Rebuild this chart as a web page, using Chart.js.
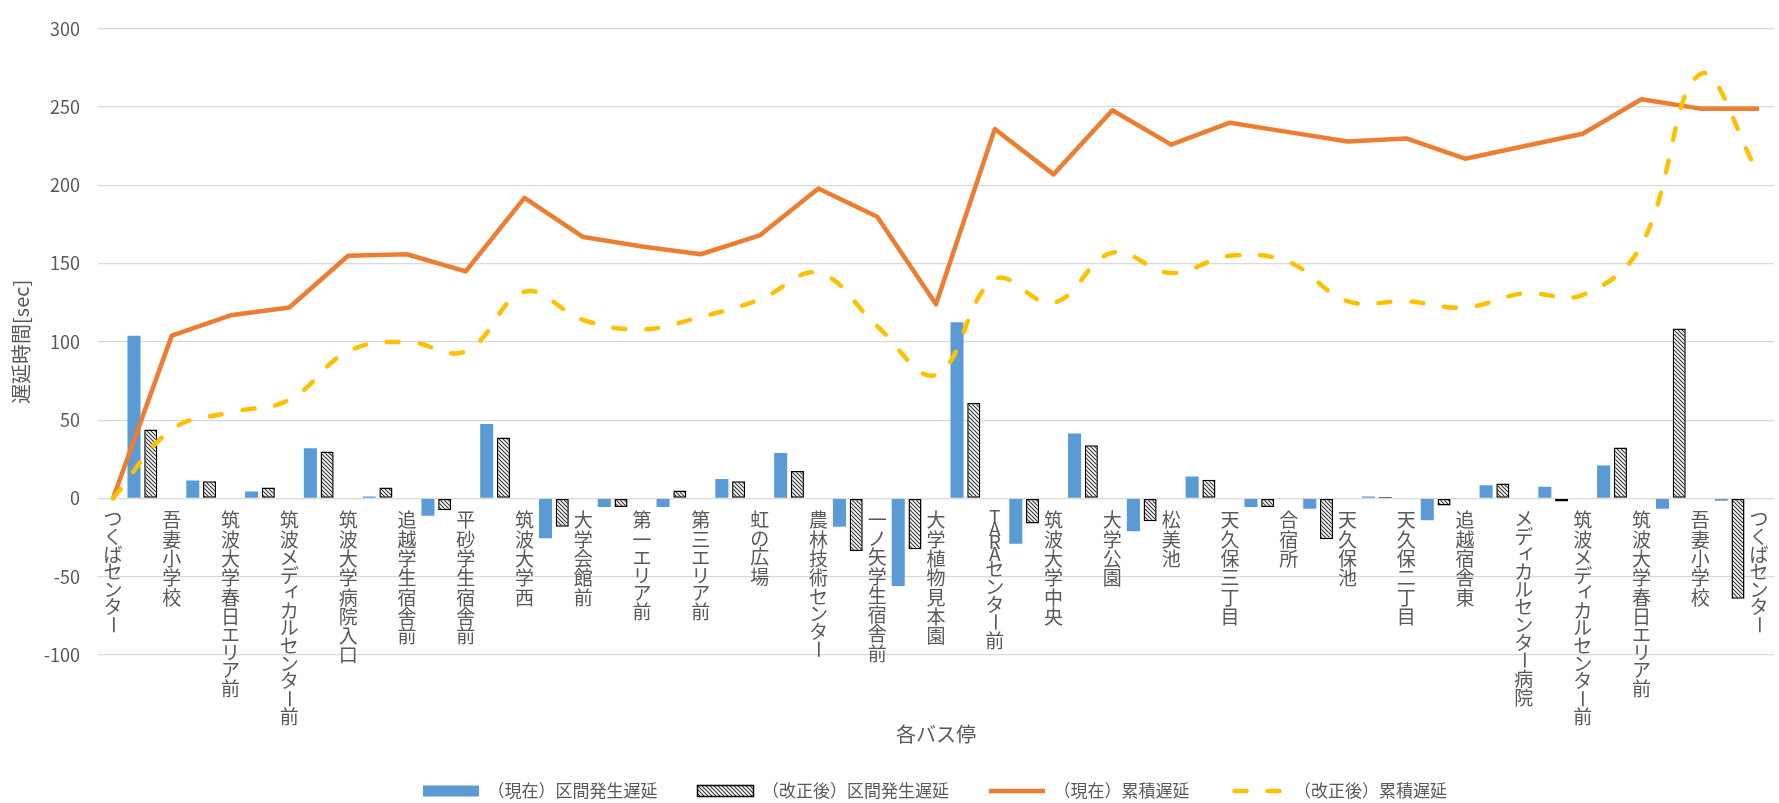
<!DOCTYPE html>
<html lang="ja">
<head>
<meta charset="utf-8">
<script src="https://cdn.jsdelivr.net/npm/chart.js@4"></script>
<style>
  html, body { margin: 0; padding: 0; background: #fff; }
  #wrap { width: 1779px; height: 803px; }
</style>
</head>
<body>
<div id="wrap"><canvas id="myChart"></canvas></div>
<script>
const stops = [
  'つくばセンター', '吾妻小学校', '筑波大学春日エリア前', '筑波メディカルセンター前',
  '筑波大学病院入口', '追越学生宿舎前', '平砂学生宿舎前', '筑波大学西', '大学会館前',
  '第一エリア前', '第三エリア前', '虹の広場', '農林技術センター', '一ノ矢学生宿舎前',
  '大学植物見本園', 'TARAセンター前', '筑波大学中央', '大学公園', '松美池',
  '天久保三丁目', '合宿所', '天久保池', '天久保二丁目', '追越宿舎東',
  'メディカルセンター病院', '筑波メディカルセンター前', '筑波大学春日エリア前',
  '吾妻小学校', 'つくばセンター',
];

// delay produced in each section (between stop i and i+1)
const currentSection = [104, 11.5, 4.5, 32, 1.3, -11, 47.5, -25.5, -5.5, -5.5, 12.5, 29, -18, -56,
  112.5, -29, 41.5, -21, 14, -5.5, -6.5, 1.3, -14, 8.5, 7.5, 21, -6.5, -1.5];
const revisedSection = [44, 11, 7, 30, 7, -7.5, 39, -18, -5.5, 5, 11, 17.5, -33.5, -32.5,
  61, -16, 34, -14.5, 12, -5.5, -26, 1, -4.5, 9.5, -2, 32.5, 108.5, -64];

// accumulated delay at each stop
const currentTotal = [0, 104, 117, 122, 155, 156, 145, 192, 167, 161, 156, 168, 198, 180, 124,
  236, 207, 248, 226, 240, 234, 228, 230, 217, 225, 233, 255, 249, 249];
const revisedTotal = [0, 44, 55, 63, 94, 100, 94, 132, 114, 108, 116, 127, 144, 110, 79,
  140, 125, 157, 144, 155, 151, 126, 126, 122, 131, 130, 162, 271, 207];

const yTicks = { min: -100, max: 300, step: 50 };

const FONT = '"Noto Sans CJK JP", "Noto Sans", sans-serif';
const GRAY = '#595959';

// diagonal hatch for the revised bars
const hatch = (() => {
  const c = document.createElement('canvas');
  c.width = 4; c.height = 4;
  const g = c.getContext('2d');
  g.fillStyle = '#fff';
  g.fillRect(0, 0, 4, 4);
  g.strokeStyle = '#333';
  g.lineWidth = 1.1;
  g.beginPath();
  g.moveTo(-1, -1); g.lineTo(5, 5);
  g.moveTo(-1, 3); g.lineTo(1, 5);
  g.moveTo(3, -1); g.lineTo(5, 1);
  g.stroke();
  return g.createPattern(c, 'repeat');
})();

const SMALL = 'ァィゥェォッャュョぁぃぅぇぉっゃゅょ';

// stop names written vertically under the zero line
const stopLabels = {
  id: 'stopLabels',
  afterDraw(chart) {
    const { ctx, scales: { x, y } } = chart;
    const top = y.getPixelForValue(0) + 12;
    ctx.save();
    ctx.fillStyle = GRAY;
    ctx.font = '19px ' + FONT;
    ctx.textAlign = 'center';
    ctx.textBaseline = 'middle';
    stops.forEach((name, i) => {
      const cx = x.getPixelForValue(i);
      let cy = top;
      for (const ch of name) {
        const code = ch.codePointAt(0);
        const step = code < 0x80 ? 12.5 : (code >= 0x3040 && code <= 0x30ff ? 17.6 : 19.3);
        const my = cy + step / 2;
        if (ch === 'ー') {
          ctx.save();
          ctx.translate(cx, my);
          ctx.rotate(Math.PI / 2);
          ctx.fillText(ch, 0, 0);
          ctx.restore();
        } else if (SMALL.includes(ch)) {
          ctx.fillText(ch, cx + 3, my - 3);
        } else {
          ctx.fillText(ch, cx, my);
        }
        cy += step;
      }
    });
    ctx.restore();
  }
};

// put the legend row where the original has it
const legendPlace = {
  id: 'legendPlace',
  afterLayout(chart) {
    const lg = chart.legend;
    if (!lg || !lg.lineWidths) return;
    const p = lg.options.labels.padding;
    const lw = lg.lineWidths[0];
    const start = 935 - (lw - p) / 2;
    lg.left = 0;
    lg.right = 2 * start - p + lw;
    lg.width = lg.right;
    lg.top = 791 - 8.5 - p;
    lg.height = 17 + 2 * p;
    lg.bottom = lg.top + lg.height;
  }
};

const data = {
  datasets: [{
    label: '（現在）区間発生遅延',
    data: currentSection.map((v, i) => ({ x: i + 0.5, y: v })),
    backgroundColor: '#5B9BD5',
    borderWidth: 0,
    pointStyle: 'rect',
    categoryPercentage: 0.57,
    barPercentage: 0.78,
    order: 2,
  }, {
    label: '（改正後）区間発生遅延',
    data: revisedSection.map((v, i) => ({ x: i + 0.5, y: v })),
    backgroundColor: hatch,
    borderColor: '#000',
    borderWidth: 1.5,
    borderSkipped: false,
    pointStyle: 'rect',
    categoryPercentage: 0.57,
    barPercentage: 0.78,
    order: 3,
  }, {
    type: 'line',
    label: '（現在）累積遅延',
    data: currentTotal.map((v, i) => ({ x: i, y: v })),
    borderColor: '#ED7D31',
    backgroundColor: '#ED7D31',
    borderWidth: 4.5,
    borderJoinStyle: 'round',
    pointRadius: 0,
    pointStyle: 'line',
    tension: 0,
    order: 1,
  }, {
    type: 'line',
    label: '（改正後）累積遅延',
    data: revisedTotal.map((v, i) => ({ x: i, y: v })),
    borderColor: '#FFC000',
    backgroundColor: '#FFC000',
    borderWidth: 4.5,
    borderDash: [12, 21],
    borderCapStyle: 'round',
    pointRadius: 0,
    pointStyle: 'line',
    tension: 0.4,
    order: 0,
  }]
};

const config = {
  type: 'bar',
  data,
  options: {
    responsive: true,
    maintainAspectRatio: false,
    animation: false,
    layout: { padding: { top: 17, right: 5, left: 0, bottom: 0 } },
    plugins: {
      legend: {
        position: 'bottom',
        maxHeight: 1,
        labels: {
          usePointStyle: true,
          pointStyleWidth: 56,
          boxHeight: 11,
          padding: 40,
          color: GRAY,
          font: { family: FONT, size: 17 },
          sort: (a, b) => a.datasetIndex - b.datasetIndex,
          generateLabels(chart) {
            const items = Chart.defaults.plugins.legend.labels.generateLabels(chart);
            items.forEach(it => {
              const ds = chart.data.datasets[it.datasetIndex];
              if (ds.borderDash) {
                it.lineDash = ds.borderDash;
                it.lineCap = 'round';
                it.lineDashOffset = -5;
              }
            });
            return items;
          }
        }
      },
      tooltip: { enabled: false }
    },
    scales: {
      x: {
        type: 'linear',
        min: -0.255,
        max: 28.255,
        offset: false,
        ticks: { stepSize: 1, includeBounds: false, display: false },
        grid: { display: false },
        border: { display: false },
        title: {
          display: true, text: '各バス停', color: GRAY,
          font: { family: FONT, size: 20 }, padding: { top: 0, bottom: 56 }
        },
        afterFit: (s) => { s.height = 147; }
      },
      y: {
        min: yTicks.min,
        max: yTicks.max,
        ticks: { stepSize: yTicks.step, color: GRAY, font: { family: FONT, size: 18 }, padding: 18 },
        grid: { color: '#D9D9D9', drawTicks: false, lineWidth: 1.3 },
        border: { display: false },
        title: {
          display: true, text: '遅延時間[sec]', color: GRAY,
          font: { family: FONT, size: 20 }, padding: { top: 9, bottom: 0 }
        },
        afterFit: (s) => { s.width = 98; }
      }
    }
  },
  plugins: [stopLabels, legendPlace]
};

var myChart = new Chart(document.getElementById('myChart'), config);
</script>
</body>
</html>
